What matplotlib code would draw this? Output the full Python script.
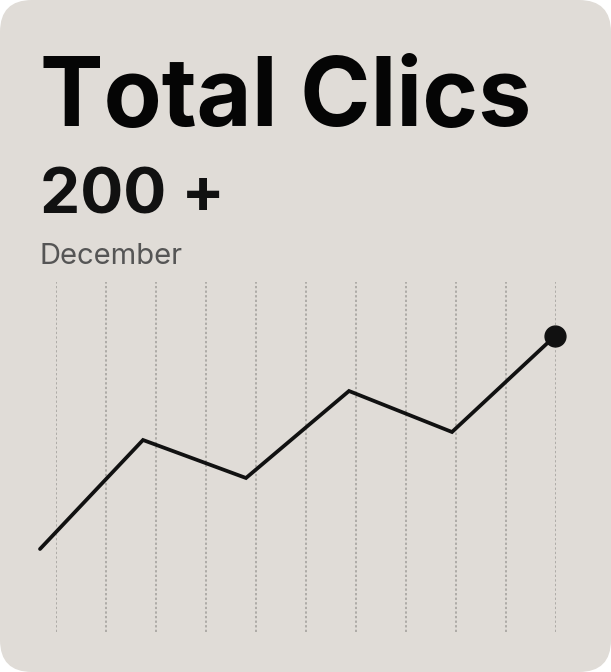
import numpy as np
import matplotlib
matplotlib.use("Agg")
import matplotlib.pyplot as plt
from matplotlib.patches import FancyBboxPatch
from matplotlib.transforms import IdentityTransform

# ── Datos ─────────────────────────────────────────────────────────────────────
title = "Total Clics"
total_label = "200 +"
period = "December"
points = [0, 1, 2, 3, 4, 5]
clicks = [83, 192, 154, 241, 200, 296]
grid_positions = list(range(11))

# ── Estilo ────────────────────────────────────────────────────────────────────
COLORS = {
    "card": "#E0DCD7",
    "line": "#111111",
    "grid": "#A19E9A",
    "title": "#050505",
    "sub": "#111111",
    "muted": "#555555",
}
plt.rcParams["font.family"] = ["Inter", "DejaVu Sans"]

W, H = 611, 672
fig = plt.figure(figsize=(W / 100, H / 100), dpi=100)
fig.patch.set_facecolor("white")

card = FancyBboxPatch((0, 0), W, H, boxstyle="round,pad=0,rounding_size=32",
                      transform=IdentityTransform(), facecolor=COLORS["card"],
                      edgecolor="none", zorder=0)
fig.add_artist(card)


def px(x, y):
    return x / W, 1 - y / H


fig.text(*px(40, 126), title, fontsize=68.5, fontweight="bold",
         color=COLORS["title"], va="baseline")
fig.text(*px(40, 213), total_label, fontsize=46, fontweight="bold",
         color=COLORS["sub"], va="baseline")
fig.text(*px(40, 264), period, fontsize=21, color=COLORS["muted"], va="baseline")

# rejilla punteada
top, bottom = 282, 632
gx = fig.add_axes([56 / W, 1 - bottom / H, 500 / W, (bottom - top) / H])
gx.set_xlim(grid_positions[0], grid_positions[-1])
gx.set_ylim(0, 1)
for g in grid_positions:
    gx.axvline(g, color=COLORS["grid"], lw=1.1, ls=(0, (1.5, 1.5)))
gx.axis("off")

# curva
ax = fig.add_axes([40 / W, 1 - bottom / H, 515 / W, (bottom - top) / H])
ax.set_xlim(points[0], points[-1])
ax.set_ylim(0, 350)
ax.plot(points, clicks, color=COLORS["line"], lw=2.7, solid_joinstyle="miter",
        solid_capstyle="round", clip_on=False)
ax.plot(points[-1], clicks[-1], "o", color=COLORS["line"], ms=15, clip_on=False)
ax.axis("off")

fig.savefig("out.png", dpi=100)
